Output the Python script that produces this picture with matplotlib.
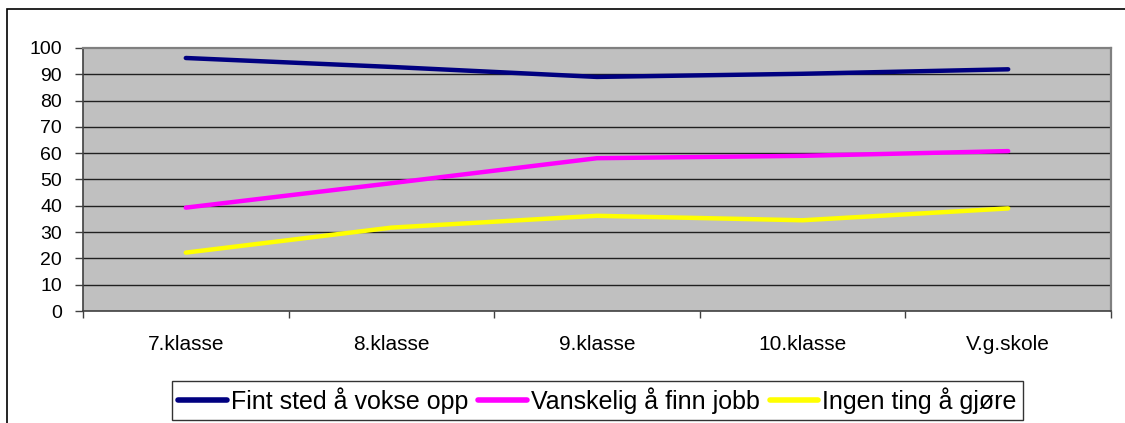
import matplotlib
matplotlib.use("Agg")
import matplotlib.pyplot as plt
from matplotlib.patches import Rectangle
from matplotlib.ticker import FixedLocator

categories = ["7.klasse", "8.klasse", "9.klasse", "10.klasse", "V.g.skole"]
series_names = ["Fint sted å vokse opp", "Vanskelig å finn jobb", "Ingen ting å gjøre"]
fint = [96.2, 92.8, 89.0, 90.2, 91.9]
vanskelig = [39.3, 48.6, 58.1, 59.0, 60.8]
ingen = [22.2, 31.7, 36.2, 34.5, 39.0]
colors = ["#000080", "#FF00FF", "#FFFF00"]
yticks = list(range(0, 101, 10))

plt.rcParams['font.family'] = ['Liberation Sans', 'DejaVu Sans']

W, H = 1125, 423
fig = plt.figure(figsize=(W / 100, H / 100), dpi=100)
fig.patch.set_facecolor("white")

# outer chart border
fig.patches.append(Rectangle((7 / W, -0.2), 2.0, (H - 9) / H + 0.2,
                             transform=fig.transFigure, fill=False,
                             edgecolor="black", linewidth=1.2))

left, right, top, bottom = 83, 1111, 48, 311
ax = fig.add_axes([left / W, (H - bottom) / H, (right - left) / W, (bottom - top) / H])
ax.set_facecolor("#C0C0C0")

x = list(range(len(categories)))
for vals, c, name in zip([fint, vanskelig, ingen], colors, series_names):
    ax.plot(x, vals, color=c, linewidth=3.2, label=name, solid_capstyle="round",
            solid_joinstyle="round", zorder=3)

ax.set_xlim(-0.5, len(categories) - 0.5)
ax.set_ylim(0, 100)

ax.xaxis.set_major_locator(FixedLocator([i - 0.5 for i in range(len(categories) + 1)]))
ax.xaxis.set_minor_locator(FixedLocator(x))
ax.set_xticklabels([])
ax.set_xticklabels(categories, minor=True)
ax.tick_params(axis="x", which="major", length=5, width=1, color="#404040", direction="out")
ax.tick_params(axis="x", which="minor", length=0, pad=17, labelsize=15)

ax.set_yticks(yticks)
ax.set_yticklabels([str(v) for v in yticks])
ax.tick_params(axis="y", length=6, width=1, color="#404040", pad=9, labelsize=14)

for yv in yticks[1:-1]:
    ax.axhline(yv, color="#202020", linewidth=1.0, zorder=1)

ax.spines["left"].set_color("#404040")
ax.spines["bottom"].set_color("#404040")
ax.spines["left"].set_linewidth(1.2)
ax.spines["bottom"].set_linewidth(1.2)
ax.spines["top"].set_color("#808080")
ax.spines["right"].set_color("#808080")
ax.spines["top"].set_linewidth(1.6)
ax.spines["right"].set_linewidth(1.6)

leg = fig.legend(loc="center", bbox_to_anchor=((167 + 1028) / 2 / W, 1 - (382 + 419) / 2 / H),
                 ncol=3, frameon=True, fancybox=False, edgecolor="black",
                 fontsize=18, handlelength=1.95, handletextpad=0.15, columnspacing=0.4,
                 borderpad=0.25, borderaxespad=0)
leg.get_frame().set_linewidth(1.0)
for line in leg.get_lines():
    line.set_linewidth(4)

fig.savefig("out.png", dpi=100, facecolor="white")
